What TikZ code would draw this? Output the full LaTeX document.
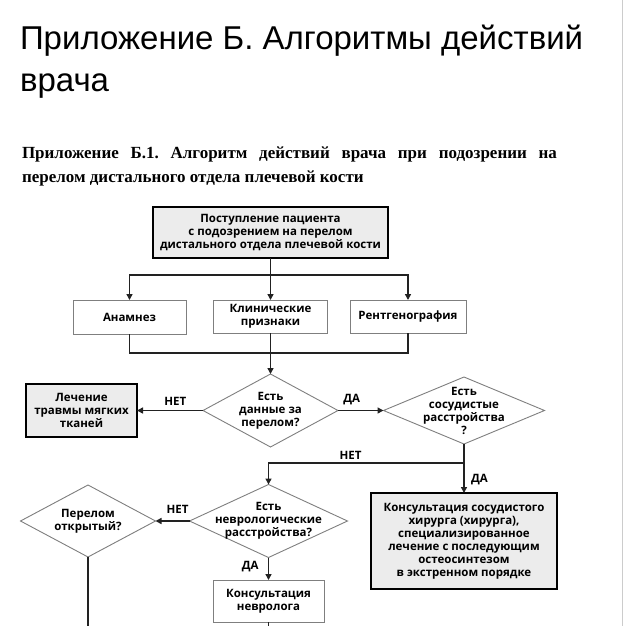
\documentclass[tikz,border=0pt]{standalone}
\usepackage{fontspec}
\setmainfont{Liberation Serif}
\newfontfamily\headfont{Liberation Sans}
\newfontfamily\chartfont{Open Sans}
\usetikzlibrary{shapes.geometric,arrows.meta}
\definecolor{boxgray}{HTML}{ECECEC}
\definecolor{edgegray}{HTML}{7F7F7F}
\definecolor{linegray}{HTML}{222222}

\begin{document}
\begin{tikzpicture}[x=1pt,y=-1pt,
  every node/.style={inner sep=0pt,outer sep=0pt},
  chart/.style={font=\chartfont\fontsize{11.5}{13}\selectfont\bfseries,align=center},
  mainbox/.style={chart,draw=black,line width=2pt,fill=boxgray},
  plainbox/.style={chart,draw=edgegray,line width=0.9pt,fill=white},
  decision/.style={diamond,draw=edgegray,line width=0.9pt,fill=white},
  dlabel/.style={chart},
  tag/.style={chart},
  conn/.style={draw=linegray,line width=1.5pt},
  arrow/.style={conn,-{Triangle[length=6pt,width=6pt]}}]
\useasboundingbox (0,0) rectangle (624,626);
\draw [black!20,line width=0.8pt] (622,0) -- (622,626);

\node [anchor=base west,font=\headfont\fontsize{33}{40}\selectfont] (title) at (20,49) {Приложение Б. Алгоритмы действий};
\node [anchor=base west,font=\headfont\fontsize{33}{40}\selectfont] (title2) at (20,92) {врача};
\node [anchor=base west,font=\bfseries\fontsize{17}{24}\selectfont] (sub) at (22,158) {\frenchspacing\makebox[535pt][s]{Приложение Б.1. Алгоритм действий врача при подозрении на}};
\node [anchor=base west,font=\bfseries\fontsize{17}{24}\selectfont] (sub2) at (22,182) {перелом дистального отдела плечевой кости};

\node [mainbox,minimum width=235pt,minimum height=51pt] (start) at (270.5,232.5) {Поступление пациента\\с подозрением на перелом\\дистального отдела плечевой кости};
\node [plainbox,minimum width=113pt,minimum height=34pt] (anamnez) at (129.5,317) {Анамнез};
\node [plainbox,minimum width=114pt,minimum height=33pt] (klin) at (270.5,316.5) {Клинические\\признаки};
\node [plainbox,minimum width=116pt,minimum height=33pt] (rentgen) at (408,316.5) {Рентгенография};
\node [mainbox,minimum width=111pt,minimum height=53pt] (lech) at (81.5,410.5) {Лечение\\травмы мягких\\тканей};
\node [decision,minimum width=135pt,minimum height=73pt,label={[dlabel]center:{Есть\\данные за\\перелом?}}] (d1) at (270.5,410.5) {};
\node [decision,minimum width=161pt,minimum height=67pt,label={[dlabel]center:{Есть\\сосудистые\\расстройства\\?}}] (d2) at (464,410.5) {};
\node [decision,minimum width=158pt,minimum height=73pt,label={[dlabel]center:{Есть\\неврологические\\расстройства?}}] (d3) at (268.5,521) {};
\node [decision,minimum width=135pt,minimum height=72pt,label={[dlabel]center:{Перелом\\открытый?}}] (d4) at (88,521) {};
\node [mainbox,minimum width=186pt,minimum height=96pt] (sosud) at (464,541) {Консультация сосудистого\\хирурга (хирурга),\\специализированное\\лечение с последующим\\остеосинтезом\\в экстренном порядке};
\node [plainbox,minimum width=111pt,minimum height=42pt] (nevrolog) at (268.5,601) {Консультация\\невролога};

\coordinate (fork) at (270.5,275);
\coordinate (join) at (270.5,353);
\coordinate (split) at (464,463);
\coordinate (d4end) at (88,630);
\coordinate (nevend) at (268.5,630);

\draw [arrow] (start) -- (klin);
\draw [arrow] (fork) -| (anamnez);
\draw [arrow] (fork) -| (rentgen);
\draw [conn] (anamnez) |- (join);
\draw [conn] (rentgen) |- (join);
\draw [arrow] (klin) -- (d1);
\draw [arrow] (d1.west) -- node [tag,above=5pt,pos=0.42] {НЕТ} (lech.east);
\draw [arrow] (d1.east) -- node [tag,above=6pt,pos=0.3] {ДА} (d2.west);
\draw [conn] (d2.south) -- (split);
\draw [arrow] (split) -| node [tag,above=4pt,pos=0.29] {НЕТ} (d3.north);
\draw [arrow] (split) -- node [tag,right=7pt,pos=0.55] {ДА} (sosud.north);
\draw [arrow] (d3.west) -- node [tag,above=8pt,pos=0.35] {НЕТ} (d4.east);
\draw [arrow] (d3.south) -- node [tag,left=10pt,pos=0.41] {ДА} (nevrolog.north);
\draw [conn] (d4.south) -- (d4end);
\draw [conn] (nevrolog.south) -- (nevend);
\end{tikzpicture}
\end{document}
